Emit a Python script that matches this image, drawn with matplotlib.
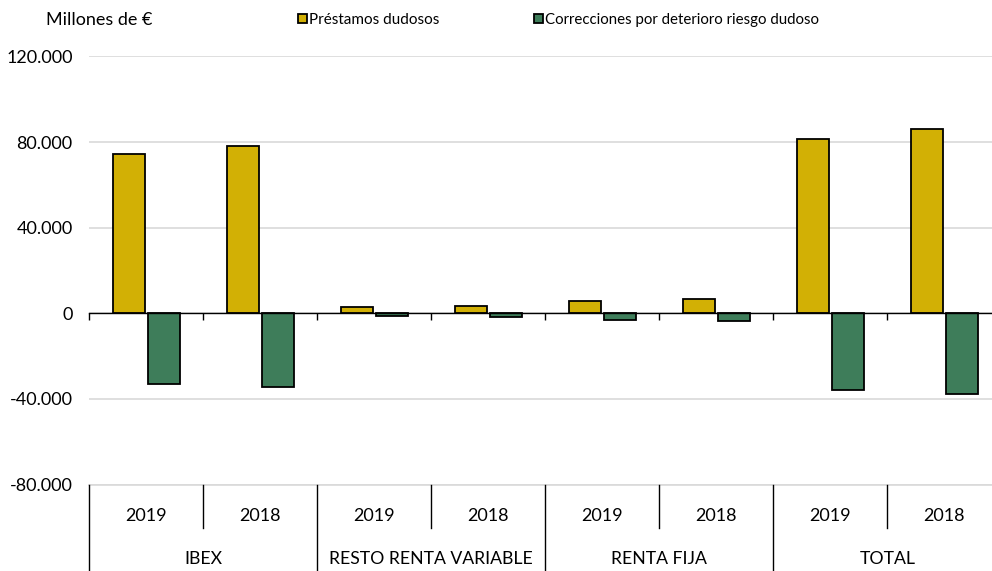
import numpy as np
import matplotlib.pyplot as plt
from matplotlib.patches import Patch
from matplotlib.ticker import FuncFormatter

plt.rcParams['font.family'] = ['Lato', 'DejaVu Sans']

grupos = ['IBEX', 'RESTO RENTA VARIABLE', 'RENTA FIJA', 'TOTAL']
anios = ['2019', '2018', '2019', '2018', '2019', '2018', '2019', '2018']
prestamos = [74600, 78100, 2800, 3400, 5900, 6800, 81300, 85900]
correcciones = [-33200, -34400, -1300, -1500, -3100, -3600, -35600, -37800]

amarillo = '#D2B005'
verde = '#3E7D5A'

fig = plt.figure(figsize=(9.92, 5.71), dpi=100)
# el borde derecho del grafico queda algo fuera de la imagen, como en el original
ax = fig.add_axes([89.3 / 992, 86.4 / 571, 912 / 992, 428.2 / 571])

x = np.arange(len(anios))
ancho = 0.284
ax.bar(x - 0.153, prestamos, ancho, color=amarillo, edgecolor='black', linewidth=1.3, zorder=3)
ax.bar(x + 0.153, correcciones, ancho, color=verde, edgecolor='black', linewidth=1.3, zorder=3)

ax.set_xlim(-0.5, 7.5)
ax.set_ylim(-80000, 120000)
ax.set_yticks([-80000, -40000, 0, 40000, 80000, 120000])
ax.yaxis.set_major_formatter(FuncFormatter(lambda v, p: f'{int(v):,}'.replace(',', '.')))
ax.tick_params(axis='y', length=0, pad=12, labelsize=13)
ax.grid(axis='y', color='#d9d9d9', linewidth=1.2, zorder=0)

for s in ['left', 'right', 'top']:
    ax.spines[s].set_visible(False)
ax.spines['bottom'].set_position(('data', 0))
ax.spines['bottom'].set_linewidth(1)
ax.spines['bottom'].set_zorder(4)
ax.set_xticks(np.arange(-0.5, 8, 1))
ax.set_xticklabels([])
ax.tick_params(axis='x', direction='out', length=5, width=1)

# tabla de etiquetas bajo el grafico
tr = ax.get_xaxis_transform()
ax.plot([-0.5, 7.5], [0, 0], transform=tr, color='#d9d9d9', lw=1.2, clip_on=False)
for i in range(len(anios) + 1):
    bajo = -0.25 if i % 2 == 0 else -0.102
    ax.plot([i - 0.5, i - 0.5], [0, bajo], transform=tr, color='black', lw=1, clip_on=False)
for i, a in enumerate(anios):
    ax.text(i, -0.073, a, transform=tr, ha='center', va='center', fontsize=13)
for j, g in enumerate(grupos):
    ax.text(2 * j + 0.5, -0.173, g, transform=tr, ha='center', va='center', fontsize=12.7)

fig.text(46 / 992, 1 - 20 / 571, 'Millones de €', ha='left', va='center', fontsize=13)

h1 = Patch(facecolor=amarillo, edgecolor='black', linewidth=1.3)
h2 = Patch(facecolor=verde, edgecolor='black', linewidth=1.3)
fig.legend([h1], ['Préstamos dudosos'], loc='center left', bbox_to_anchor=(298 / 992, 1 - 20 / 571),
           frameon=False, fontsize=11, handlelength=0.6, handleheight=0.6, handletextpad=0.15, borderpad=0, borderaxespad=0)
fig.legend([h2], ['Correcciones por deterioro riesgo dudoso'], loc='center left', bbox_to_anchor=(534 / 992, 1 - 20 / 571),
           frameon=False, fontsize=10.8, handlelength=0.6, handleheight=0.6, handletextpad=0.15, borderpad=0, borderaxespad=0)

fig.savefig('out.png', dpi=100)
